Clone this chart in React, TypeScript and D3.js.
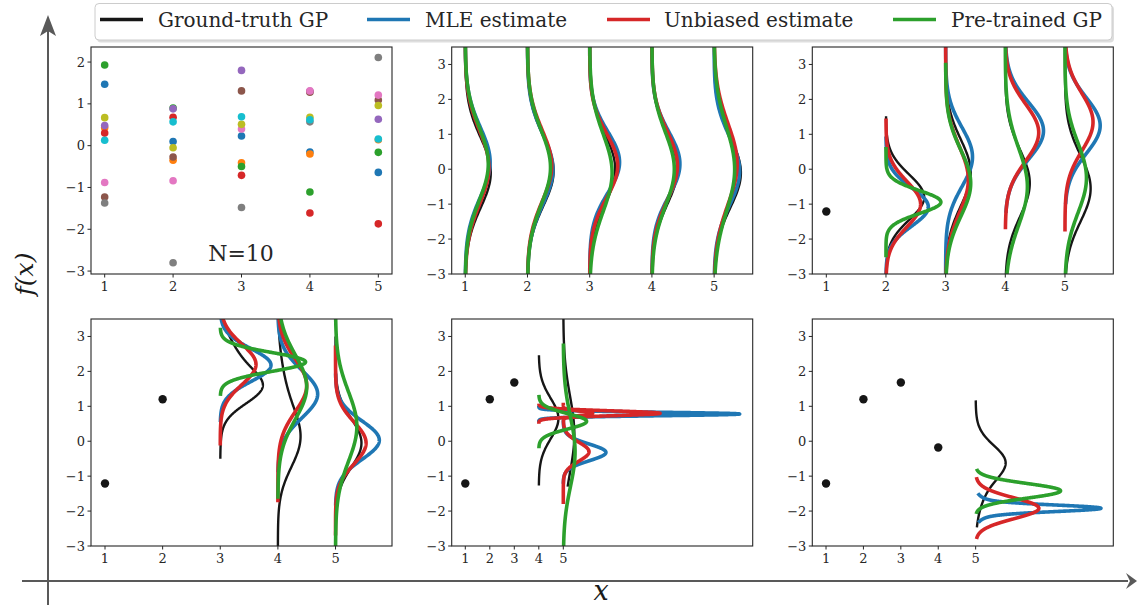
import React from 'react';
import * as d3 from 'd3';

// ---------- data ----------
const xTicks = [1, 2, 3, 4, 5];
const yTicksSamples = [-3, -2, -1, 0, 1, 2];
const yTicksCurves = [-3, -2, -1, 0, 1, 2, 3];

const legendLabels = ['Ground-truth GP', 'MLE estimate', 'Unbiased estimate', 'Pre-trained GP'];
const seriesColors = ['#161616', '#1f77b4', '#d62728', '#2ca02c'];

const sampleColors = ['#1f77b4', '#ff7f0e', '#2ca02c', '#d62728', '#9467bd', '#8c564b', '#e377c2', '#7f7f7f', '#bcbd22', '#17becf'];
// prior samples at x = 1..5, one list per sample colour
const sampleBlue = [1.47, 0.1, 0.23, -0.15, -0.64];
const sampleOrange = [0.43, -0.35, -0.41, -0.2, 0.14];
const sampleGreen = [1.93, 0.9, -0.5, -1.11, -0.16];
const sampleRed = [0.3, 0.68, -0.71, -1.61, -1.87];
const samplePurple = [0.48, 0.88, 1.8, 1.3, 0.63];
const sampleBrown = [-1.23, -0.27, 1.31, 1.28, 1.09];
const samplePink = [-0.88, -0.84, 0.4, 1.31, 1.21];
const sampleGray = [-1.37, -2.8, -1.48, 0.57, 2.11];
const sampleOlive = [0.67, -0.05, 0.51, 0.68, 0.96];
const sampleCyan = [0.13, 0.57, 0.69, 0.62, 0.16];
const samples = [sampleBlue, sampleOrange, sampleGreen, sampleRed, samplePurple, sampleBrown, samplePink, sampleGray, sampleOlive, sampleCyan];

// observed points
const obsX = [1, 2, 3, 4];
const obsY = [-1.21, 1.2, 1.68, -0.18];

// density curves: x position, y range, gaussian components [mean, sd, peak width]
type Curve = { x: number; lo: number; hi: number; comps: number[][] };

const p2GroundTruth: Curve[] = [
  { x: 1, lo: -3.2, hi: 3.7, comps: [[-0.1, 1.0, 0.41]] },
  { x: 2, lo: -3.2, hi: 3.7, comps: [[-0.05, 1.0, 0.42]] },
  { x: 3, lo: -3.2, hi: 3.7, comps: [[0.0, 1.0, 0.41]] },
  { x: 4, lo: -3.2, hi: 3.7, comps: [[0.0, 1.0, 0.41]] },
  { x: 5, lo: -3.2, hi: 3.7, comps: [[-0.1, 1.0, 0.43]] },
];
const p2Mle: Curve[] = [
  { x: 1, lo: -3.2, hi: 3.7, comps: [[0.2, 1.0, 0.4]] },
  { x: 2, lo: -3.2, hi: 3.7, comps: [[0.0, 1.0, 0.41]] },
  { x: 3, lo: -3.2, hi: 3.7, comps: [[0.2, 0.88, 0.48]] },
  { x: 4, lo: -3.2, hi: 3.7, comps: [[0.15, 0.92, 0.45]] },
  { x: 5, lo: -3.2, hi: 3.7, comps: [[-0.05, 0.98, 0.41]] },
];
const p2Unbiased: Curve[] = [
  { x: 1, lo: -3.2, hi: 3.7, comps: [[0.05, 1.05, 0.38]] },
  { x: 2, lo: -3.2, hi: 3.7, comps: [[0.1, 1.02, 0.39]] },
  { x: 3, lo: -3.2, hi: 3.7, comps: [[0.1, 0.92, 0.45]] },
  { x: 4, lo: -3.2, hi: 3.7, comps: [[0.1, 0.98, 0.41]] },
  { x: 5, lo: -3.2, hi: 3.7, comps: [[0.15, 1.15, 0.37]] },
];
const p2Pretrained: Curve[] = [
  { x: 1, lo: -3.2, hi: 3.7, comps: [[0.15, 1.05, 0.37]] },
  { x: 2, lo: -3.2, hi: 3.7, comps: [[0.05, 1.05, 0.37]] },
  { x: 3, lo: -3.2, hi: 3.7, comps: [[-0.1, 1.1, 0.36]] },
  { x: 4, lo: -3.2, hi: 3.7, comps: [[0.0, 1.05, 0.36]] },
  { x: 5, lo: -3.2, hi: 3.7, comps: [[0.0, 1.2, 0.33]] },
];

const p3GroundTruth: Curve[] = [
  { x: 2, lo: -3.2, hi: 1.52, comps: [[-0.8, 0.65, 0.64]] },
  { x: 3, lo: -3.2, hi: 3.7, comps: [[-0.1, 0.95, 0.42]] },
  { x: 4, lo: -3.2, hi: 3.7, comps: [[-0.4, 0.95, 0.41]] },
  { x: 5, lo: -3.2, hi: 3.7, comps: [[-0.55, 0.95, 0.43]] },
];
const p3Mle: Curve[] = [
  { x: 2, lo: -3.2, hi: 0.94, comps: [[-1.08, 0.55, 0.71]] },
  { x: 3, lo: -3.2, hi: 3.7, comps: [[0.35, 0.85, 0.45]] },
  { x: 4, lo: -1.25, hi: 3.7, comps: [[1.1, 0.82, 0.64]] },
  { x: 5, lo: -1.0, hi: 3.7, comps: [[1.25, 0.8, 0.59]] },
];
const p3Unbiased: Curve[] = [
  { x: 2, lo: -3.2, hi: 1.45, comps: [[-1.0, 0.65, 0.58]] },
  { x: 3, lo: -3.2, hi: 3.7, comps: [[-0.3, 0.95, 0.38]] },
  { x: 4, lo: -1.72, hi: 3.7, comps: [[1.05, 0.82, 0.56]] },
  { x: 5, lo: -1.78, hi: 3.7, comps: [[1.35, 0.82, 0.47]] },
];
const p3Pretrained: Curve[] = [
  { x: 2, lo: -2.52, hi: 0.64, comps: [[-0.94, 0.33, 0.92]] },
  { x: 3, lo: -3.2, hi: 3.05, comps: [[-0.4, 0.95, 0.42]] },
  { x: 4, lo: -3.2, hi: 3.7, comps: [[-0.5, 1.1, 0.37]] },
  { x: 5, lo: -3.2, hi: 3.7, comps: [[-0.25, 1.0, 0.36]] },
];

const p4GroundTruth: Curve[] = [
  { x: 3, lo: -0.5, hi: 3.7, comps: [[1.5, 0.45, 0.45], [2.05, 0.75, 0.36]] },
  { x: 4, lo: -3.2, hi: 3.7, comps: [[0.0, 0.8, 0.33], [1.2, 1.0, 0.12]] },
  { x: 5, lo: -3.2, hi: 3.0, comps: [[-0.05, 0.7, 0.45]] },
];
const p4Mle: Curve[] = [
  { x: 3, lo: 0.55, hi: 3.7, comps: [[2.18, 0.47, 0.88]] },
  { x: 4, lo: -0.89, hi: 3.7, comps: [[1.35, 0.68, 0.69]] },
  { x: 5, lo: -1.84, hi: 1.94, comps: [[0.03, 0.55, 0.76]] },
];
const p4Unbiased: Curve[] = [
  { x: 3, lo: -0.12, hi: 3.7, comps: [[2.2, 0.58, 0.62]] },
  { x: 4, lo: -1.75, hi: 3.7, comps: [[1.6, 0.75, 0.5]] },
  { x: 5, lo: -2.7, hi: 2.74, comps: [[-0.05, 0.6, 0.53]] },
];
const p4Pretrained: Curve[] = [
  { x: 3, lo: 1.3, hi: 3.25, comps: [[2.27, 0.27, 1.48]] },
  { x: 4, lo: -1.65, hi: 3.7, comps: [[1.55, 0.92, 0.5]] },
  { x: 5, lo: -3.2, hi: 3.7, comps: [[0.42, 1.0, 0.37]] },
];

const p5GroundTruth: Curve[] = [
  { x: 4, lo: -1.27, hi: 2.46, comps: [[0.65, 0.58, 0.8]] },
  { x: 5, lo: -1.3, hi: 3.7, comps: [[0.2, 1.1, 0.45]] },
];
const p5Mle: Curve[] = [
  { x: 4, lo: 0.55, hi: 1.02, comps: [[0.78, 0.05, 8.2]] },
  { x: 5, lo: -1.22, hi: 0.6, comps: [[-0.32, 0.24, 1.74]] },
];
const p5Unbiased: Curve[] = [
  { x: 4, lo: 0.5, hi: 1.08, comps: [[0.8, 0.07, 4.95]] },
  { x: 5, lo: -1.8, hi: 1.1, comps: [[-0.3, 0.27, 1.05], [0.8, 0.06, 1.2]] },
];
const p5Pretrained: Curve[] = [
  { x: 4, lo: -0.2, hi: 1.33, comps: [[0.57, 0.22, 1.95]] },
  { x: 5, lo: -3.2, hi: 2.8, comps: [[-0.3, 1.0, 0.48]] },
];

const p6GroundTruth: Curve[] = [
  { x: 5, lo: -2.47, hi: 1.17, comps: [[-0.55, 0.45, 0.55], [-1.0, 0.7, 0.3]] },
];
const p6Mle: Curve[] = [
  { x: 5, lo: -2.33, hi: -1.49, comps: [[-1.92, 0.09, 2.75], [-1.92, 0.2, 0.6]] },
];
const p6Unbiased: Curve[] = [
  { x: 5, lo: -2.8, hi: -1.03, comps: [[-1.92, 0.3, 1.69]] },
];
const p6Pretrained: Curve[] = [
  { x: 5, lo: -2.08, hi: -0.79, comps: [[-1.42, 0.21, 2.27]] },
];

// ---------- layout ----------
const W = 1137;
const H = 605;
const colLeft = [91, 451.7, 812.3];
const panelW = 301;
const rowTop = [47, 319];
const panelH = 227;

type Panel = {
  col: number; row: number; xDomain: [number, number]; yDomain: [number, number];
  yTicks: number[]; series?: Curve[][]; nObs: number; samples?: boolean;
};

const panels: Panel[] = [
  { col: 0, row: 0, xDomain: [0.8, 5.2], yDomain: [-3.07, 2.36], yTicks: yTicksSamples, nObs: 0, samples: true },
  { col: 1, row: 0, xDomain: [0.782, 5.62], yDomain: [-3, 3.5], yTicks: yTicksCurves, nObs: 0, series: [p2GroundTruth, p2Mle, p2Unbiased, p2Pretrained] },
  { col: 2, row: 0, xDomain: [0.765, 5.81], yDomain: [-3, 3.5], yTicks: yTicksCurves, nObs: 1, series: [p3GroundTruth, p3Mle, p3Unbiased, p3Pretrained] },
  { col: 0, row: 1, xDomain: [0.757, 5.98], yDomain: [-3, 3.5], yTicks: yTicksCurves, nObs: 2, series: [p4GroundTruth, p4Mle, p4Unbiased, p4Pretrained] },
  { col: 1, row: 1, xDomain: [0.445, 12.73], yDomain: [-3, 3.5], yTicks: yTicksCurves, nObs: 3, series: [p5GroundTruth, p5Mle, p5Unbiased, p5Pretrained] },
  { col: 2, row: 1, xDomain: [0.633, 8.68], yDomain: [-3, 3.5], yTicks: yTicksCurves, nObs: 4, series: [p6GroundTruth, p6Mle, p6Unbiased, p6Pretrained] },
];

function curvePoints(c: Curve, n = 500): [number, number][] {
  const pts: [number, number][] = [];
  for (let i = 0; i <= n; i++) {
    const y = c.lo + ((c.hi - c.lo) * i) / n;
    let off = 0;
    for (const [m, s, a] of c.comps) off += a * Math.exp(-0.5 * ((y - m) / s) ** 2);
    pts.push([c.x + off, y]);
  }
  return pts;
}

const FONT = '"DejaVu Serif", serif';
const TXT = '#262626';

function PanelView({ p, idx }: { p: Panel; idx: number }) {
  const x0 = colLeft[p.col];
  const y0 = rowTop[p.row];
  const xs = d3.scaleLinear().domain(p.xDomain).range([x0, x0 + panelW]);
  const ys = d3.scaleLinear().domain(p.yDomain).range([y0 + panelH, y0]);
  const line = d3.line<[number, number]>().x((d) => xs(d[0])).y((d) => ys(d[1])).curve(d3.curveLinear);
  const clipId = `clip${idx}`;
  return (
    <g>
      <defs>
        <clipPath id={clipId}>
          <rect x={x0} y={y0} width={panelW} height={panelH} />
        </clipPath>
      </defs>
      <g clipPath={`url(#${clipId})`}>
        {p.samples &&
          samples.map((vals, si) =>
            vals.map((v, k) => (
              <circle key={`${si}-${k}`} cx={xs(xTicks[k])} cy={ys(v)} r={3.8} fill={sampleColors[si]} />
            ))
          )}
        {p.series &&
          p.series.map((curves, si) =>
            curves.map((c, k) => (
              <path
                key={`${si}-${k}`}
                d={line(curvePoints(c)) || ''}
                fill="none"
                stroke={seriesColors[si]}
                strokeWidth={si === 0 ? 2.4 : 3.6}
                strokeLinejoin="round"
              />
            ))
          )}
        {obsX.slice(0, p.nObs).map((x, k) => (
          <circle key={`o${k}`} cx={xs(x)} cy={ys(obsY[k])} r={4.2} fill="#161616" />
        ))}
      </g>
      <rect x={x0} y={y0} width={panelW} height={panelH} fill="none" stroke="#262626" strokeWidth={1.1} />
      {xTicks.map((t) => (
        <g key={`xt${t}`}>
          <line x1={xs(t)} x2={xs(t)} y1={y0 + panelH} y2={y0 + panelH + 3.5} stroke="#262626" strokeWidth={1} />
          <text x={xs(t)} y={y0 + panelH + 17} textAnchor="middle" fontFamily={FONT} fontSize={13} fill={TXT}>
            {t}
          </text>
        </g>
      ))}
      {p.yTicks.map((t) => (
        <g key={`yt${t}`}>
          <line x1={x0 - 3.5} x2={x0} y1={ys(t)} y2={ys(t)} stroke="#262626" strokeWidth={1} />
          <text x={x0 - 6} y={ys(t) + 4.6} textAnchor="end" fontFamily={FONT} fontSize={13} fill={TXT}>
            {t < 0 ? `\u2212${Math.abs(t)}` : `${t}`}
          </text>
        </g>
      ))}
      {p.samples && (
        <text x={xs(3) - 0.5} y={ys(-2.77)} textAnchor="middle" fontFamily={FONT} fontSize={22} fill={TXT}>
          N=10
        </text>
      )}
    </g>
  );
}

const legendLineX = [100, 367, 607, 893];
const legendTextX = [158, 425, 664, 951];

export default function App() {
  const axisColor = '#595959';
  return (
    <svg width={W} height={H} style={{ position: 'absolute', left: 0, top: 0, background: '#fff' }}>
      <rect x={0} y={0} width={W} height={H} fill="#fff" />
      {/* big axes arrows */}
      <line x1={48} x2={48} y1={H} y2={30} stroke={axisColor} strokeWidth={2} />
      <path d="M48,15 L56,36 L48,31 L40,36 Z" fill={axisColor} />
      <line x1={22} x2={1128} y1={581} y2={581} stroke={axisColor} strokeWidth={2} />
      <path d="M1137,581 L1126,573 L1130,581 L1126,589 Z" fill={axisColor} />
      <text
        transform="translate(33,274) rotate(-90)"
        textAnchor="middle"
        fontFamily={FONT}
        fontStyle="italic"
        fontSize={25}
        fill="#1a1a1a"
      >
        f(x)
      </text>
      <text x={601} y={600} textAnchor="middle" fontFamily={FONT} fontStyle="italic" fontSize={27} fill="#1a1a1a">
        x
      </text>

      {panels.map((p, i) => (
        <PanelView key={i} p={p} idx={i} />
      ))}

      {/* legend */}
      <rect x={97} y={5.5} width={1017} height={37} rx={4} fill="#c8c8c8" opacity={0.6} />
      <rect x={95} y={3.5} width={1017} height={36.5} rx={4} fill="#fff" stroke="#cccccc" strokeWidth={1} />
      {legendLabels.map((lab, i) => (
        <g key={lab}>
          <line x1={legendLineX[i]} x2={legendLineX[i] + 43} y1={19.5} y2={19.5} stroke={seriesColors[i]} strokeWidth={3.4} />
          <text x={legendTextX[i]} y={26.5} fontFamily={FONT} fontSize={20} fill={TXT}>
            {lab}
          </text>
        </g>
      ))}
    </svg>
  );
}
